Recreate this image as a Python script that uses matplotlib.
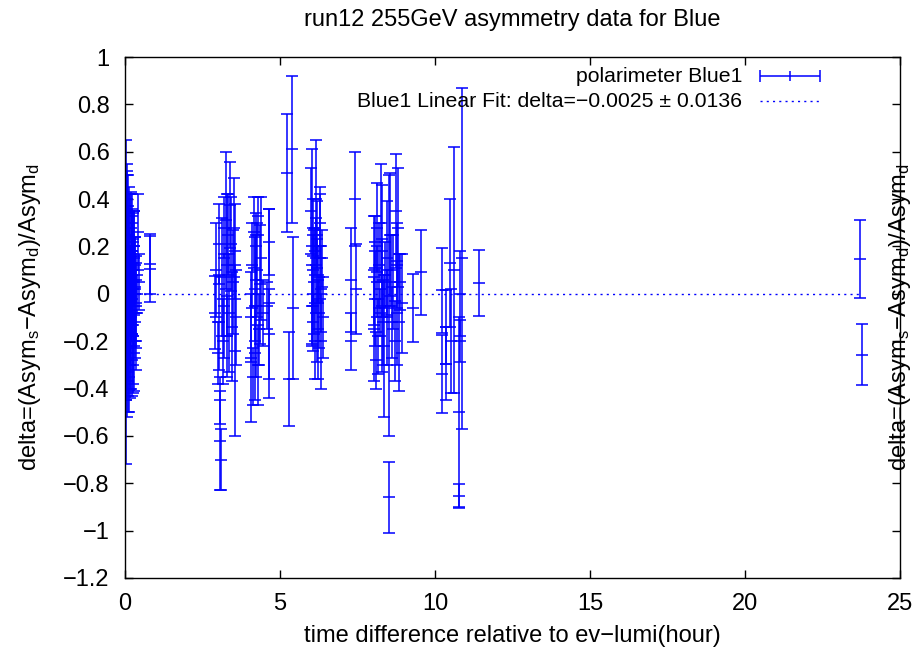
import matplotlib
matplotlib.use("Agg")
import matplotlib.pyplot as plt
import numpy as np

plt.rcParams['font.family'] = ['Liberation Sans', 'DejaVu Sans']
plt.rcParams['mathtext.fontset'] = 'custom'
plt.rcParams['mathtext.rm'] = 'Liberation Sans'
plt.rcParams['mathtext.it'] = 'Liberation Sans'

# ---- data (hours, delta, error) ----
t_start = [0.01, 0.02, 0.03, 0.04, 0.05, 0.06, 0.07, 0.08, 0.09, 0.10,
           0.11, 0.12, 0.13, 0.14, 0.15, 0.16, 0.17, 0.18, 0.19, 0.20,
           0.21, 0.22, 0.23, 0.24, 0.25, 0.26, 0.27, 0.28, 0.29, 0.30,
           0.31, 0.32, 0.33, 0.34, 0.35, 0.37, 0.40, 0.42, 0.44,
           0.03, 0.05, 0.06, 0.08, 0.10, 0.12, 0.14, 0.16, 0.18, 0.20,
           0.22, 0.25, 0.28, 0.30, 0.80, 0.82]
d_start = [0.05, -0.20, 0.35, -0.45, 0.15, -0.10, 0.25, -0.30, 0.02, 0.30,
           -0.15, 0.10, -0.35, 0.20, -0.05, 0.12, -0.22, 0.28, 0.00, -0.12,
           0.18, -0.28, 0.08, -0.02, 0.22, -0.18, 0.05, -0.08, 0.15, -0.25,
           0.02, 0.12, -0.12, 0.06, -0.05, -0.20, 0.00, 0.26, 0.05,
           -0.02, 0.40, -0.40, 0.18, -0.25, -0.05, 0.35, -0.30, -0.10, 0.05,
           0.30, -0.30, 0.20, 0.10, 0.127, 0.105]
e_start = [0.30, 0.25, 0.30, 0.27, 0.40, 0.30, 0.25, 0.20, 0.35, 0.20,
           0.22, 0.18, 0.15, 0.22, 0.25, 0.30, 0.18, 0.15, 0.20, 0.28,
           0.18, 0.15, 0.25, 0.15, 0.12, 0.20, 0.18, 0.14, 0.20, 0.16,
           0.22, 0.12, 0.15, 0.10, 0.18, 0.12, 0.08, 0.16, 0.12,
           0.15, 0.12, 0.12, 0.16, 0.18, 0.12, 0.10, 0.14, 0.10, 0.12,
           0.12, 0.12, 0.15, 0.10, 0.127, 0.14]

t_mid = [2.89, 2.95, 3.00, 3.02, 3.04, 3.06, 3.07, 3.10, 3.12, 3.15,
         3.18, 3.20, 3.26, 3.28, 3.30, 3.33, 3.36, 3.40, 3.42, 3.44,
         3.48, 3.52, 3.54, 3.56, 3.58,
         4.05, 4.08, 4.10, 4.14, 4.16, 4.18, 4.20, 4.22, 4.24, 4.26,
         4.28, 4.30, 4.32, 4.35, 4.40, 4.45, 4.58, 4.63, 4.64, 4.66,
         5.21, 5.30, 5.40, 5.41,
         6.00, 6.02, 6.04, 6.05, 6.07, 6.08, 6.10, 6.12, 6.14, 6.15,
         6.17, 6.18, 6.20, 6.22, 6.24, 6.26, 6.28, 6.29, 6.31, 6.33,
         6.36, 6.38,
         7.28, 7.30, 7.42, 7.45]
d_mid = [-0.08, 0.10, -0.25, 0.21, -0.12, -0.45, -0.62, -0.70, 0.07, -0.20,
         0.28, -0.05, 0.31, 0.12, -0.18, 0.25, -0.08, 0.375, 0.21, -0.14,
         0.05, 0.28, -0.24, 0.18, -0.10,
         -0.27, -0.10, 0.12, -0.35, 0.26, 0.02, -0.25, 0.20, -0.05, 0.10,
         -0.30, 0.33, -0.15, 0.04, 0.15, -0.08, -0.05, 0.22, -0.17, -0.04,
         0.51, -0.36, 0.61, -0.06,
         0.35, 0.20, -0.05, 0.10, 0.28, -0.12, 0.05, 0.18, -0.20, 0.40,
         0.12, -0.03, 0.25, -0.15, 0.08, -0.08, 0.20, 0.30, -0.20, 0.02,
         0.15, -0.10,
         0.06, -0.20, 0.40, 0.02]
e_mid = [0.155, 0.20, 0.13, 0.17, 0.20, 0.10, 0.21, 0.13, 0.25, 0.18,
         0.13, 0.22, 0.29, 0.30, 0.17, 0.17, 0.25, 0.18, 0.20, 0.23,
         0.22, 0.21, 0.36, 0.20, 0.20,
         0.27, 0.19, 0.18, 0.12, 0.15, 0.22, 0.20, 0.14, 0.30, 0.20,
         0.17, 0.08, 0.15, 0.25, 0.26, 0.14, 0.10, 0.14, 0.19, 0.40,
         0.25, 0.20, 0.31, 0.30,
         0.18, 0.41, 0.17, 0.15, 0.12, 0.12, 0.22, 0.10, 0.16, 0.25,
         0.20, 0.26, 0.14, 0.21, 0.12, 0.15, 0.22, 0.15, 0.20, 0.18,
         0.12, 0.17,
         0.22, 0.12, 0.20, 0.19]

t_late = [8.02, 8.04, 8.06, 8.08, 8.10, 8.12, 8.14, 8.16, 8.20, 8.22,
          8.26, 8.28, 8.30, 8.33, 8.36, 8.40, 8.44, 8.46, 8.50, 8.52,
          8.56, 8.58, 8.62, 8.66, 8.70, 8.74, 8.76, 8.78, 8.82, 8.84,
          8.86, 8.92,
          9.28, 9.54,
          10.22, 10.24, 10.34, 10.37, 10.48, 10.52, 10.61, 10.76, 10.78, 10.80,
          10.82, 10.86, 11.43,
          23.72, 23.76]
d_late = [0.10, -0.15, 0.22, -0.02, -0.28, 0.28, 0.05, -0.18, 0.12, -0.08,
          0.30, -0.05, 0.18, -0.12, -0.22, 0.08, 0.15, -0.10, -0.05, -0.86,
          0.25, 0.10, -0.12, 0.05, -0.20, 0.35, 0.12, -0.08, 0.28, -0.12,
          0.05, -0.04,
          -0.06, 0.09,
          0.014, -0.34, -0.14, -0.295, 0.13, -0.20, 0.10, -0.50, -0.855, -0.20,
          0.00, 0.15, 0.045,
          0.146, -0.257]
e_late = [0.23, 0.22, 0.11, 0.20, 0.12, 0.19, 0.15, 0.16, 0.18, 0.10,
          0.25, 0.28, 0.28, 0.18, 0.30, 0.14, 0.24, 0.20, 0.55, 0.15,
          0.26, 0.15, 0.15, 0.20, 0.17, 0.24, 0.18, 0.22, 0.25, 0.29,
          0.12, 0.21,
          0.145, 0.18,
          0.178, 0.165, 0.155, 0.155, 0.27, 0.22, 0.52, 0.40, 0.05, 0.09,
          0.18, 0.72, 0.14,
          0.165, 0.13]

fit_value = -0.0025
fit_error = 0.0136

blue = '#0000ff'

t = np.array(t_start + t_mid + t_late)
d = np.array(d_start + d_mid + d_late)
e = np.array(e_start + e_mid + e_late)

fig = plt.figure(figsize=(9.22, 6.53), dpi=100)
ax = fig.add_axes([0.1356, 0.1149, 0.8405, 0.7978])

ax.errorbar(t, d, yerr=e, fmt='_', color=blue, ms=8, mew=1.1,
            elinewidth=1.1, capsize=4, capthick=1.1)
ax.plot([t.min(), t.max()], [fit_value, fit_value], color=blue,
        lw=1.0, ls=(0, (1.5, 3)))

ax.set_xlim(0, 25)
ax.set_ylim(-1.2, 1.0)
ax.set_xticks(np.arange(0, 26, 5))
ax.set_yticks(np.round(np.arange(-1.2, 1.01, 0.2), 1))
ax.set_yticklabels(['\u22121.2', '\u22121', '\u22120.8', '\u22120.6', '\u22120.4',
                    '\u22120.2', '0', '0.2', '0.4', '0.6', '0.8', '1'])
ax.tick_params(direction='in', length=5.5, width=1, top=True, right=True,
               labelsize=17, pad=11)
for s in ax.spines.values():
    s.set_linewidth(1.0)

ylab = 'delta=(Asym$_{\\rm s}$\u2212Asym$_{\\rm d}$)/Asym$_{\\rm d}$'
fig.text(30 / 922, 0.5138, ylab, rotation=90, ha='center', va='center', fontsize=17)
fig.text(900 / 922, 0.5138, ylab, rotation=90, ha='center', va='center', fontsize=17)
fig.text(0.5556, 1 - 636 / 653, 'time difference relative to ev\u2212lumi(hour)',
         ha='center', va='center', fontsize=17)
fig.text(0.5556, 1 - 20 / 653, 'run12 255GeV asymmetry data for Blue',
         ha='center', va='center', fontsize=17)

# legend, gnuplot style (text right aligned, sample to the right)
ax.text(0.796, 0.9635, 'polarimeter Blue1', transform=ax.transAxes,
        ha='right', va='center', fontsize=15.3)
ax.errorbar([0.858], [0.9635], xerr=[0.039], fmt='|', color=blue, ms=7,
            mew=1.1, elinewidth=1.1, capsize=4, capthick=1.1,
            transform=ax.transAxes, clip_on=False)
ax.text(0.796, 0.9155,
        'Blue1 Linear Fit: delta=\u2212%.4f \u00b1 %.4f' % (abs(fit_value), fit_error),
        transform=ax.transAxes, ha='right', va='center', fontsize=15.3)
ax.plot([0.819, 0.897], [0.9155, 0.9155], color=blue, lw=1.0,
        ls=(0, (1.5, 3)), transform=ax.transAxes)

fig.savefig('out.png', dpi=100)
